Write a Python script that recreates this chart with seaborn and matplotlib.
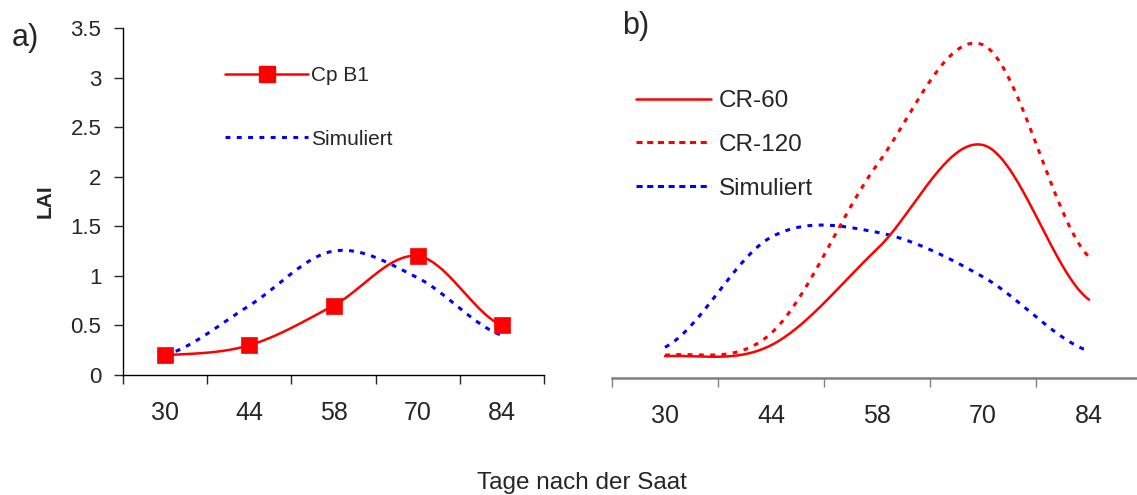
import numpy as np
import pandas as pd
import matplotlib
matplotlib.use("Agg")
import matplotlib.pyplot as plt
import seaborn as sns
from matplotlib.lines import Line2D

# values (LAI per sampling day)
days = ["30", "44", "58", "70", "84"]
lai_cpb1 = [0.2, 0.3, 0.7, 1.2, 0.5]
lai_sim_a = [0.2, 0.7, 1.25, 0.98, 0.4]
lai_cr60 = [0.22, 0.33, 1.3, 2.35, 0.79]
lai_cr120 = [0.23, 0.45, 2.15, 3.36, 1.22]
lai_sim_b = [0.31, 1.42, 1.47, 1.02, 0.27]

sns.set_style("white")
plt.rcParams["font.family"] = ["Liberation Sans", "DejaVu Sans"]

RED = "#FF0000"
BLUE = "#0000FF"
DOTS = (0, (1.6, 2.1))


def smooth(vals, n=40):
    # Excel style "smoothed line": cubic Hermite through the points
    y = np.asarray(vals, dtype=float)
    p = np.concatenate([[y[0]], y, [y[-1]]])
    xs, ys = [], []
    for i in range(len(y) - 1):
        t = np.linspace(0, 1, n, endpoint=(i == len(y) - 2))
        p0, p1, p2, p3 = p[i:i + 4]
        m1 = (p2 - p0) / 2
        m2 = (p3 - p1) / 2
        h = ((2 * t**3 - 3 * t**2 + 1) * p1 + (t**3 - 2 * t**2 + t) * m1
             + (-2 * t**3 + 3 * t**2) * p2 + (t**3 - t**2) * m2)
        xs.append(i + t)
        ys.append(h)
    return pd.DataFrame({"x": np.concatenate(xs), "y": np.concatenate(ys)})


def setup_cat_axis(ax):
    ax.set_xlim(-0.5, len(days) - 0.5)
    ax.set_ylim(0, 3.5)
    ax.set_xticks(np.arange(-0.5, len(days), 1.0))
    ax.set_xticklabels([])
    ax.set_xticks(range(len(days)), minor=True)
    ax.set_xticklabels(days, minor=True, fontsize=18)
    ax.tick_params(axis="x", which="minor", length=0, pad=19)
    ax.set_xlabel("")
    ax.set_ylabel("")


fig = plt.figure(figsize=(11.37, 4.95), dpi=100)
W, H = 1137, 495
axa = fig.add_axes([123 / W, (H - 375) / H, 421 / W, 347 / H])
axb = fig.add_axes([612 / W, (H - 378) / H, 530 / W, 347 / H])

# ---- panel a
sns.lineplot(data=smooth(lai_sim_a), x="x", y="y", ax=axa, color=BLUE,
             lw=2.2, linestyle=DOTS, sort=False, estimator=None)
sns.lineplot(data=smooth(lai_cpb1), x="x", y="y", ax=axa, color=RED,
             lw=1.8, sort=False, estimator=None)
pts = pd.DataFrame({"x": range(len(days)), "y": lai_cpb1})
sns.scatterplot(data=pts, x="x", y="y", ax=axa, marker="s", s=125,
                color=RED, edgecolor=RED, linewidth=0.5, zorder=5)
setup_cat_axis(axa)
axa.set_yticks(np.arange(0, 3.51, 0.5))
axa.set_yticklabels(["0", "0.5", "1", "1.5", "2", "2.5", "3", "3.5"], fontsize=16)
axa.tick_params(axis="y", direction="out", length=6.5, width=1, left=True, pad=9)
axa.tick_params(axis="x", which="major", direction="out", length=6.5, width=1, bottom=True)
for s in ["top", "right"]:
    axa.spines[s].set_visible(False)
for s in ["left", "bottom"]:
    axa.spines[s].set_color("black")
    axa.spines[s].set_linewidth(1.0)

hnd_a = [Line2D([], [], color=RED, lw=1.8, marker="s", markersize=11),
         Line2D([], [], color=BLUE, lw=2.2, linestyle=DOTS)]
axa.legend(hnd_a, ["Cp B1", "Simuliert"], loc="upper left",
           bbox_to_anchor=(225 / W, 1 - 66 / H), bbox_transform=fig.transFigure,
           frameon=False, fontsize=15, handlelength=4, handletextpad=0.15,
           labelspacing=2.15, borderpad=0, borderaxespad=0)
fig.text(45 / W, 1 - 201 / H, "LAI", fontsize=15, fontweight="bold",
         rotation=90, ha="center", va="center")
fig.text(12 / W, 1 - 38 / H, "a)", fontsize=22, ha="left", va="center")

# ---- panel b
sns.lineplot(data=smooth(lai_sim_b), x="x", y="y", ax=axb, color=BLUE,
             lw=2.2, linestyle=DOTS, sort=False, estimator=None)
sns.lineplot(data=smooth(lai_cr120), x="x", y="y", ax=axb, color=RED,
             lw=2.2, linestyle=DOTS, sort=False, estimator=None)
sns.lineplot(data=smooth(lai_cr60), x="x", y="y", ax=axb, color=RED,
             lw=1.8, sort=False, estimator=None)
setup_cat_axis(axb)
axb.set_yticks([])
axb.tick_params(axis="x", which="major", direction="out", length=6.5, width=1,
                color="#808080", bottom=True)
for s in ["top", "right", "left"]:
    axb.spines[s].set_visible(False)
axb.spines["bottom"].set_color("#808080")
axb.spines["bottom"].set_linewidth(1.8)

hnd_b = [Line2D([], [], color=RED, lw=1.8),
         Line2D([], [], color=RED, lw=2.2, linestyle=(0, (2, 1.5))),
         Line2D([], [], color=BLUE, lw=2.2, linestyle=(0, (2, 1.5)))]
axb.legend(hnd_b, ["CR-60", "CR-120", "Simuliert"], loc="upper left",
           bbox_to_anchor=(636 / W, 1 - 90 / H), bbox_transform=fig.transFigure,
           frameon=False, fontsize=17.5, handlelength=3.1, handletextpad=0.3,
           labelspacing=0.9, borderpad=0, borderaxespad=0)
fig.text(622 / W, 1 - 26 / H, "b)", fontsize=22, ha="left", va="center")

fig.text(582 / W, 1 - 483 / H, "Tage nach der Saat", fontsize=17.5,
         ha="center", va="center")

fig.savefig("out.png", dpi=100)
